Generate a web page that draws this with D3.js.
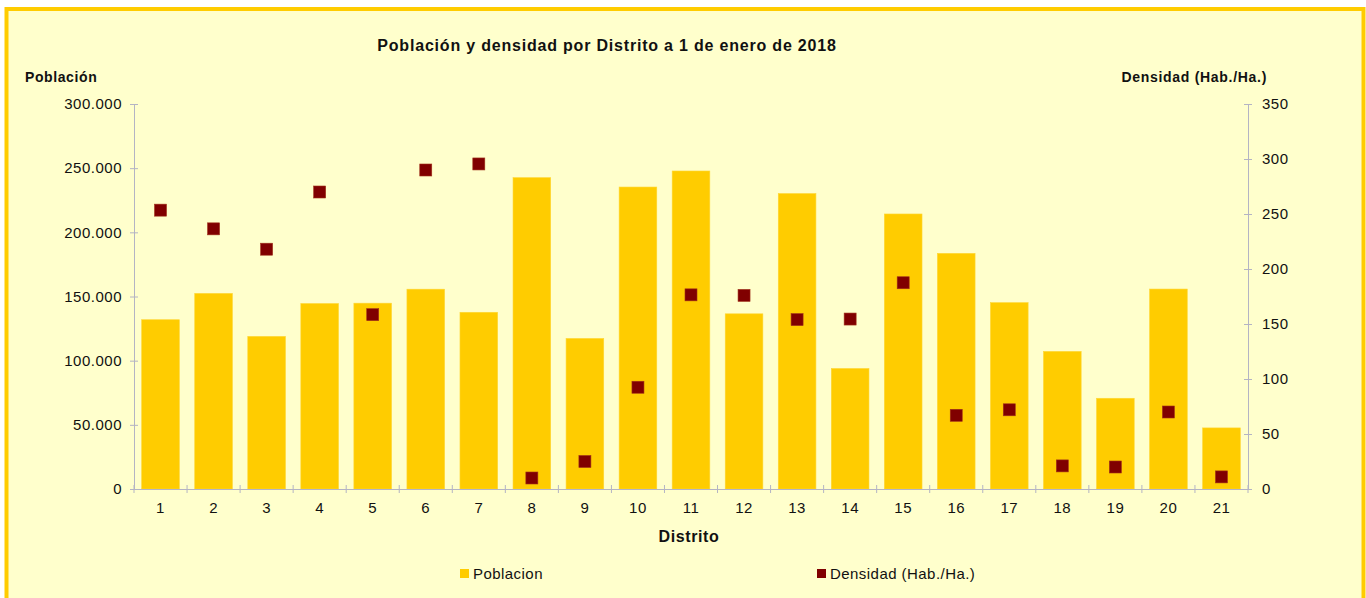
<!DOCTYPE html>
<html>
<head>
<meta charset="utf-8">
<title>Población y densidad por Distrito</title>
<script src="https://cdn.jsdelivr.net/npm/d3@7"></script>
<style>
  html, body { margin: 0; padding: 0; background: #fff; }
  body { font-family: "Liberation Sans", Arial, sans-serif; }
  .axis path, .axis line { stroke: #b4b4c4; }
  .axis text { font-size: 15px; letter-spacing: 0.5px; fill: #111; font-family: "Liberation Sans", Arial, sans-serif; }
</style>
</head>
<body>
<script>
// datos
const distritos = ["1","2","3","4","5","6","7","8","9","10","11","12","13","14","15","16","17","18","19","20","21"];
const poblacion = [131900, 152400, 118900, 144500, 144800, 155700, 137700, 242600, 117300, 235300, 247800, 136500, 230200, 93900, 214300, 183600, 145200, 107200, 70700, 155800, 47600];
const densidad = [253.5, 236.5, 218, 270, 158.5, 290, 295.5, 10, 25, 92.5, 176.5, 176, 154, 154.5, 187.5, 67, 72, 21, 20, 70, 11];
const ticksPob = [0, 50000, 100000, 150000, 200000, 250000, 300000];
const ticksDen = [0, 50, 100, 150, 200, 250, 300, 350];

const W = 1366, H = 598;
const m = { left: 134, right: 1248, top: 104, bottom: 489 };

const es = d3.formatLocale({ decimal: ",", thousands: ".", grouping: [3], currency: ["", ""] });
const fmt = es.format(",d");

const svg = d3.select("body").append("svg")
  .attr("width", W).attr("height", H)
  .style("display", "block");

// fondo y borde
svg.append("rect")
  .attr("x", 6.5).attr("y", 9).attr("width", 1357).attr("height", 600)
  .attr("fill", "#ffffcc").attr("stroke", "#ffcc00").attr("stroke-width", 4);

const x = d3.scaleBand().domain(distritos).range([m.left, m.right]).paddingInner(0.29).paddingOuter(0.145);
const yL = d3.scaleLinear().domain([0, 300000]).range([m.bottom, m.top]);
const yR = d3.scaleLinear().domain([0, 350]).range([m.bottom, m.top]);

// barras
svg.append("g").selectAll("rect").data(poblacion).enter().append("rect")
  .attr("x", (d, i) => x(distritos[i]))
  .attr("y", d => yL(d))
  .attr("width", x.bandwidth())
  .attr("height", d => m.bottom - yL(d))
  .attr("fill", "#ffcc00")
  .attr("stroke", "#ffd633").attr("stroke-width", 0.6);

// eje izquierdo
svg.append("g").attr("class", "axis")
  .attr("transform", "translate(" + m.left + ",0)")
  .call(d3.axisLeft(yL).tickValues(ticksPob).tickFormat(fmt).tickSizeOuter(0).tickSizeInner(4).tickPadding(8))
  .call(g => g.selectAll(".tick line").attr("x2", 4).attr("x1", -4));

// eje derecho
svg.append("g").attr("class", "axis")
  .attr("transform", "translate(" + m.right + ",0)")
  .call(d3.axisRight(yR).tickValues(ticksDen).tickSizeOuter(0).tickSizeInner(4).tickPadding(10))
  .call(g => g.selectAll(".tick line").attr("x1", -4).attr("x2", 4));

// eje x
const gx = svg.append("g").attr("class", "axis")
  .attr("transform", "translate(0," + m.bottom + ")")
  .call(d3.axisBottom(x).tickSize(0).tickPadding(13));
gx.select(".domain").attr("d", "M" + (m.left - 4) + ",0.5H" + (m.right + 4));
gx.selectAll(".sep").data(d3.range(distritos.length + 1)).enter().append("line")
  .attr("class", "sep")
  .attr("x1", i => m.left + i * (m.right - m.left) / distritos.length)
  .attr("x2", i => m.left + i * (m.right - m.left) / distritos.length)
  .attr("y1", -4).attr("y2", 4)
  .attr("stroke", "#b4b4c4");

// densidad
const s = 12;
svg.append("g").selectAll("rect").data(densidad).enter().append("rect")
  .attr("x", (d, i) => x(distritos[i]) + x.bandwidth() / 2 - s / 2)
  .attr("y", d => yR(d) - s / 2)
  .attr("width", s).attr("height", s)
  .attr("fill", "#800000")
  .attr("stroke", "#a0301a").attr("stroke-width", 0.6);

// textos
svg.append("text").attr("x", 607).attr("y", 51).attr("text-anchor", "middle")
  .attr("font-size", 16).attr("font-weight", "bold").attr("letter-spacing", 0.8).attr("fill", "#111")
  .text("Población y densidad por Distrito a 1 de enero de 2018");
svg.append("text").attr("x", 25).attr("y", 82)
  .attr("font-size", 14).attr("font-weight", "bold").attr("letter-spacing", 0.6).attr("fill", "#111")
  .text("Población");
svg.append("text").attr("x", 1267).attr("y", 82).attr("text-anchor", "end")
  .attr("font-size", 14).attr("font-weight", "bold").attr("letter-spacing", 0.7).attr("fill", "#111")
  .text("Densidad (Hab./Ha.)");
svg.append("text").attr("x", 689).attr("y", 542).attr("text-anchor", "middle")
  .attr("font-size", 16).attr("font-weight", "bold").attr("letter-spacing", 0.6).attr("fill", "#111")
  .text("Distrito");

// leyenda
const leyenda = [
  { nombre: "Poblacion", color: "#ffcc00", x: 460 },
  { nombre: "Densidad (Hab./Ha.)", color: "#800000", x: 817 }
];
const lg = svg.append("g").selectAll("g").data(leyenda).enter().append("g")
  .attr("transform", d => "translate(" + d.x + ",569)");
lg.append("rect").attr("width", 9).attr("height", 9).attr("fill", d => d.color);
lg.append("text").attr("x", 13).attr("y", 10).attr("font-size", 15).attr("letter-spacing", 0.45).attr("fill", "#111")
  .text(d => d.nombre);
</script>
</body>
</html>
